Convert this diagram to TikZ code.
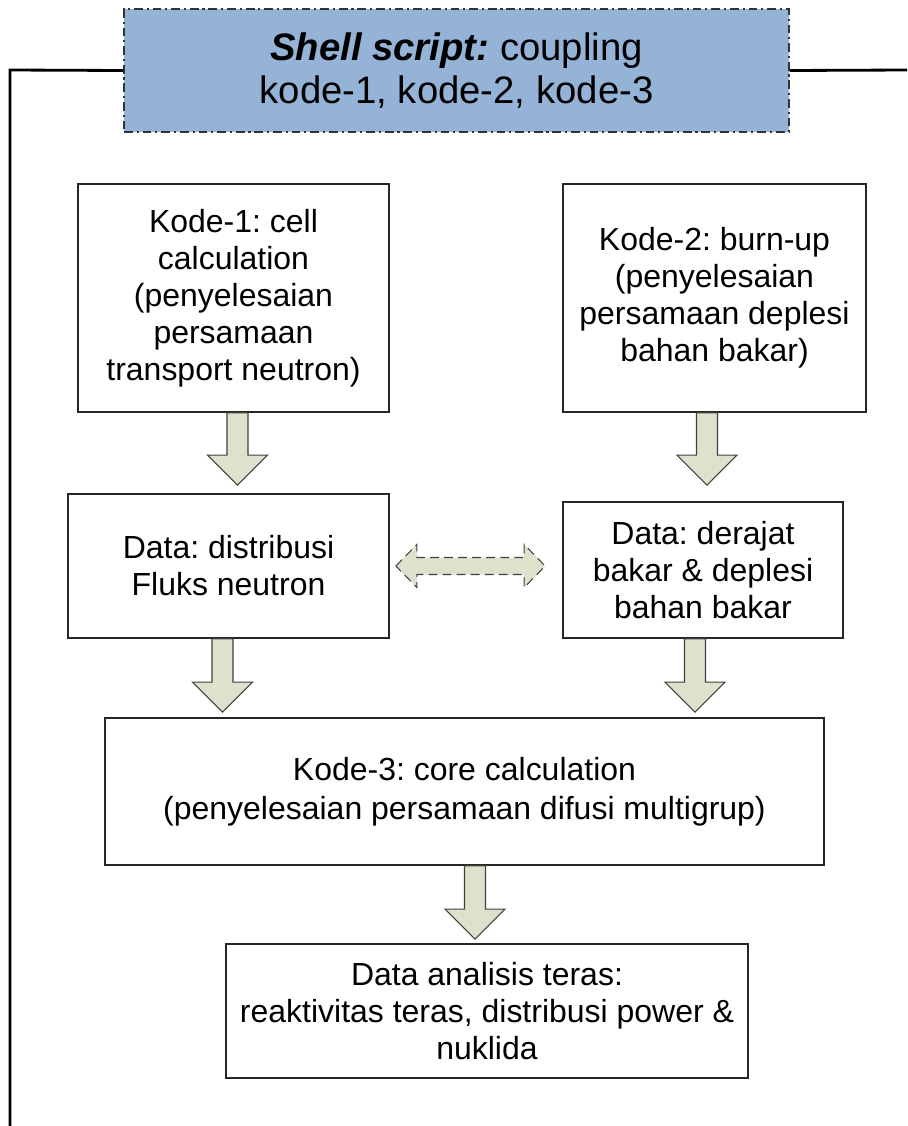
\documentclass[tikz,border=0pt]{standalone}
\usepackage{fontspec}
\setmainfont{Liberation Sans}
\usepackage{tikz}
\usetikzlibrary{calc}
\frenchspacing

\definecolor{shellblue}{RGB}{149,179,215}
\definecolor{arrowgreen}{RGB}{221,226,204}

\tikzset{
  codebox/.style={draw=black!85, line width=1pt, fill=white, align=center, inner sep=2pt,
    font=\fontsize{18.2pt}{21pt}\selectfont},
  shellbox/.style={draw=black!80, line width=0.9pt, fill=shellblue, align=center,
    dash pattern=on 5pt off 2.2pt on 1.2pt off 2.2pt, font=\fontsize{21.8pt}{24pt}\selectfont},
  fatarrow/.style={draw=black!75, line width=0.6pt, fill=arrowgreen},
  frame/.style={line width=1.6pt}
}

% block arrow pointing down, tip x taken from the start point
\newcommand{\fatdown}[2]{%
  \draw[fatarrow] let \p1=(#1), \p2=(#2) in
    (\x1-0.21cm,\y1) -- (\x1-0.21cm,\y2+0.6cm) -- (\x1-0.6cm,\y2+0.6cm) -- (\x1,\y2)
    -- (\x1+0.6cm,\y2+0.6cm) -- (\x1+0.21cm,\y2+0.6cm) -- (\x1+0.21cm,\y1) -- cycle;}
% dashed block arrow with two heads, left to right
\newcommand{\fatboth}[2]{%
  \draw[fatarrow,dash pattern=on 5pt off 3pt] let \p1=(#1), \p2=(#2) in
    (\x1,\y1) -- (\x1+0.42cm,\y1+0.43cm) -- (\x1+0.42cm,\y1+0.17cm) -- (\x2-0.42cm,\y1+0.17cm)
    -- (\x2-0.42cm,\y1+0.43cm) -- (\x2,\y1) -- (\x2-0.42cm,\y1-0.43cm) -- (\x2-0.42cm,\y1-0.17cm)
    -- (\x1+0.42cm,\y1-0.17cm) -- (\x1+0.42cm,\y1-0.43cm) -- cycle;}

\begin{document}
\begin{tikzpicture}[x=0.02cm,y=-0.02cm]
  \useasboundingbox (0,0) rectangle (907,1126);

  % outer frame of the shell script
  \coordinate (frameL) at (10,70);
  \coordinate (frameB) at (10,1126);
  \coordinate (frameR) at (907,70);

  \node[shellbox, minimum width=13.3cm, minimum height=2.46cm] (shell) at (456.5,70.5)
    {\textbf{\textit{Shell script:}} coupling\\ kode-1, kode-2, kode-3};
  \draw[frame] (shell.west) -- (frameL) -- (frameB);   % left line down
  \draw[frame] (shell.east) -- (frameR);               % right line

  % the codes and their data
  \node[codebox, minimum width=6.22cm, minimum height=4.56cm] (kode1) at (233.5,298)
    {Kode-1: cell\\ calculation\\ (penyelesaian\\ persamaan\\ transport neutron)};
  \node[codebox, minimum width=6.06cm, minimum height=4.56cm] (kode2) at (714.5,298)
    {Kode-2: burn-up\\ (penyelesaian\\ persamaan deplesi\\ bahan bakar)};
  \node[codebox, minimum width=6.42cm, minimum height=2.88cm] (data1) at (228.5,566)
    {Data: distribusi\\ Fluks neutron};
  \node[codebox, minimum width=5.6cm, minimum height=2.72cm] (data2) at (703,570)
    {Data: derajat\\ bakar \& deplesi\\ bahan bakar};
  \node[codebox, minimum width=14.38cm, minimum height=2.94cm] (kode3) at (464.5,791.5)
    {Kode-3: core calculation\\[1.5pt] (penyelesaian persamaan difusi multigrup)};
  \node[codebox, minimum width=10.44cm, minimum height=2.68cm] (hasil) at (487,1011)
    {Data analisis teras:\\ reaktivitas teras, distribusi power \&\\ nuklida};

  % block arrows
  \fatdown{[xshift=0.08cm]kode1.south}{[yshift=0.16cm]data1.north}
  \fatdown{[xshift=-0.15cm]kode2.south}{[yshift=0.32cm]data2.north}
  \fatdown{[xshift=-0.12cm]data1.south}{[yshift=0.1cm]kode3.north}
  \fatdown{[xshift=-0.16cm]data2.south}{[yshift=0.1cm]kode3.north}
  \fatdown{[xshift=0.21cm]kode3.south}{[yshift=0.08cm]hasil.north}
  \fatboth{[xshift=0.12cm]data1.east}{[xshift=-0.34cm]data2.west}
\end{tikzpicture}
\end{document}
